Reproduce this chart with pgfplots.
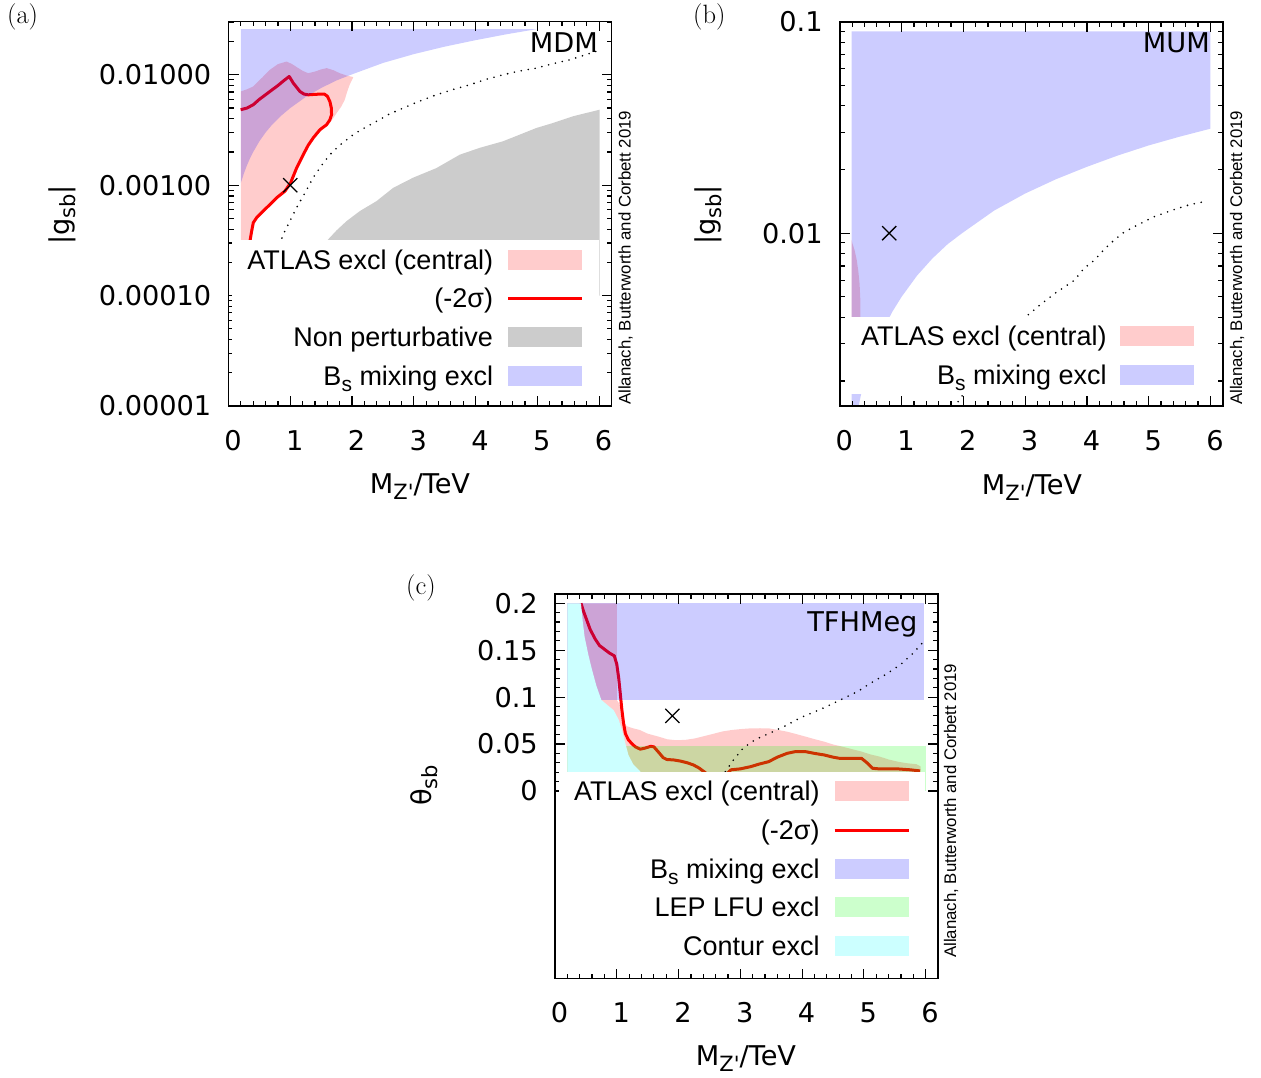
\documentclass[border=0pt]{standalone}
\usepackage{fontspec}
\usepackage{pgfplots}
\pgfplotsset{compat=1.18}
\newfontfamily\dv{DejaVu Sans}
\newfontfamily\ls{Liberation Sans}
\newcommand\tickfont{\dv\fontsize{27.2}{30}\selectfont}
\newcommand\legfont{\ls\fontsize{27}{30}\selectfont}
\newcommand\cpfont{\ls\fontsize{16.8}{20}\selectfont}
\newcommand\tsub[1]{\raisebox{-6pt}{\fontsize{21}{24}\selectfont #1}}
\definecolor{pinkc}{RGB}{255,204,204}
\definecolor{bluec}{RGB}{204,204,255}
\definecolor{greyc}{RGB}{204,204,204}
\definecolor{greenc}{RGB}{204,255,204}
\definecolor{cyanc}{RGB}{204,255,255}

\pgfplotsset{
  boxleg/.style={legend image code/.code={\fill[##1, draw=none] (0pt,-10pt) rectangle (74pt,10pt);}},
  lineleg/.style={legend image code/.code={\path[draw=none, fill=none] (0pt,-10pt) rectangle (74pt,10pt); \draw[##1] (0pt,0pt) -- (74pt,0pt);}},
  gp/.style={
    scale only axis, width=383pt, height=384.5pt,
    xmin=0, xmax=6.2, xtick={0,1,2,3,4,5,6}, minor x tick num=4,
    axis on top,
    axis line style={line width=1.8pt},
    every tick/.style={black, line width=1.2pt},
    major tick length=10pt, minor tick length=5pt,
    tick label style={font=\tickfont},
    /pgf/number format/assume math mode=true,
    xticklabel style={anchor=north, inner sep=0pt, yshift=-24pt, xshift=4.5pt},
    yticklabel style={anchor=east, inner sep=0pt, xshift=-17pt},
    label style={font=\tickfont},
    legend cell align=right, legend plot pos=right,
    legend style={fill=white, draw=none, inner xsep=15pt, inner ysep=0pt,
      row sep=0pt, column sep=13.5pt, font=\legfont, anchor=north east,
      nodes={inner sep=0pt, text height=28.85pt, text depth=9.85pt}},
  },
  dots/.style={black, line width=1.8pt, line cap=round, dash pattern=on 0pt off 7pt, forget plot},
  cross/.style={black, only marks, mark=x, mark size=10pt, line width=1.3pt, forget plot},
}

\begin{document}
\begin{tikzpicture}
\path[use as bounding box] (0pt,0pt) rectangle (1261pt,-1077pt);

% ---------------- (a) MDM
\begin{axis}[gp, at={(228.5pt,-21.5pt)}, anchor=north west,
  ymode=log, ymin=1e-5, ymax=0.0304,
  ytick={1e-5,1e-4,1e-3,1e-2}, yticklabels={0.00001,0.00010,0.00100,0.01000},
  minor ytick={2e-5,3e-5,4e-5,5e-5,6e-5,7e-5,8e-5,9e-5,2e-4,3e-4,4e-4,5e-4,6e-4,7e-4,8e-4,9e-4,2e-3,3e-3,4e-3,5e-3,6e-3,7e-3,8e-3,9e-3,2e-2,3e-2},
  xlabel={M\tsub{Z\textquotesingle}/TeV},
  ylabel={|g\tsub{sb}|},
  xlabel style={at={(axis description cs:0.5,-0.2107)}, anchor=center},
  ylabel style={at={(axis description cs:-0.4347,0.4967)}, anchor=center},
  legend style={at={(axis description cs:0.9667,0.4317)}},
]
% non perturbative
\addplot[fill=black, fill opacity=0.2, draw=none, forget plot] coordinates {
 (0.9,0.0001) (1.0,0.00013) (1.3,0.00021) (1.588,0.000312) (1.75,0.00039) (1.911,0.000473)
 (2.126,0.000583) (2.396,0.000718) (2.665,0.000946) (2.988,0.00117) (3.366,0.00143)
 (3.743,0.00189) (4.066,0.00218) (4.443,0.0025) (4.713,0.00287) (4.983,0.0033)
 (5.252,0.00366) (5.575,0.00421) (5.791,0.00451) (6.007,0.00483) (6.007,0.0001)} -- cycle;
% ATLAS central
\addplot[fill=red, fill opacity=0.2, draw=none, forget plot] coordinates {
 (0.2,0.00707) (0.30,0.0074) (0.40,0.00784) (0.55,0.0095) (0.67,0.0111) (0.80,0.0125)
 (0.94,0.0132) (1.03,0.0125) (1.13,0.0115) (1.21,0.0108) (1.29,0.01035) (1.40,0.0107)
 (1.50,0.0112) (1.59,0.0115) (1.70,0.0110) (1.80,0.01035) (1.90,0.0099) (2.02,0.00953)
 (1.96,0.0081) (1.92,0.0070) (1.88,0.0059) (1.82,0.0051) (1.75,0.0045) (1.69,0.0040)
 (1.60,0.0035) (1.50,0.0031) (1.39,0.00268) (1.30,0.0023) (1.22,0.00189) (1.12,0.00143)
 (1.02,0.00105) (0.93,0.00088) (0.80,0.00077) (0.64,0.000625) (0.48,0.000508)
 (0.42,0.000457) (0.39,0.000384) (0.36,0.000312) (0.33,0.00022) (0.30,0.0001) (0.2,0.0001)} -- cycle;
% -2 sigma
\addplot[red, line width=3pt, line join=round, forget plot] coordinates {
 (0.197,0.00483) (0.30,0.0050) (0.401,0.00536) (0.50,0.0060) (0.60,0.0066) (0.671,0.00707)
 (0.80,0.0080) (0.90,0.0089) (0.983,0.00966) (1.05,0.0084) (1.156,0.00707) (1.22,0.0067)
 (1.29,0.00659) (1.40,0.00665) (1.479,0.00669) (1.55,0.0067) (1.60,0.0064) (1.641,0.00574)
 (1.665,0.0050) (1.668,0.00435) (1.64,0.0039) (1.588,0.00353) (1.479,0.00318) (1.371,0.00268)
 (1.29,0.0023) (1.21,0.00189) (1.102,0.00143) (1.005,0.00105) (0.913,0.000883) (0.779,0.000769)
 (0.617,0.000625) (0.455,0.000508) (0.401,0.000457) (0.375,0.000384) (0.348,0.000312)
 (0.32,0.00024) (0.30,0.00015)};
% Bs mixing
\addplot[fill=blue, fill opacity=0.2, draw=none, forget plot] coordinates {
 (0.2,0.026) (5.0,0.026) (4.5,0.0233) (4.0,0.0206) (3.5,0.018) (3.0,0.0154) (2.5,0.0128)
 (2.0,0.0101) (1.75,0.0089) (1.5,0.0076) (1.25,0.0063) (1.0,0.005) (0.85,0.00425)
 (0.7,0.0035) (0.6,0.003) (0.5,0.0025) (0.4,0.002) (0.35,0.00176) (0.3,0.00152)
 (0.25,0.00128) (0.2,0.00105)} -- cycle;
\addplot[dots] coordinates {
 (0.75,0.00022) (0.886,0.000359) (1.0,0.00048) (1.102,0.000625) (1.25,0.00088) (1.371,0.00117)
 (1.5,0.0015) (1.641,0.00189) (1.8,0.0023) (2.018,0.00287) (2.2,0.0033) (2.396,0.00379)
 (2.6,0.0044) (2.827,0.0050) (3.1,0.0058) (3.366,0.00659) (3.65,0.0074) (3.905,0.00812)
 (4.17,0.0091) (4.443,0.01) (4.7,0.0108) (4.983,0.0115) (5.25,0.0126) (5.52,0.01366)
 (5.75,0.0150) (5.95,0.0163)};
\addplot[cross] coordinates {(1.0,0.001)};
\node[anchor=base east, inner sep=0pt, font=\tickfont] at (axis description cs:0.9648,0.9191) {MDM};
\addlegendimage{boxleg, fill=pinkc}\addlegendentry{ATLAS excl (central)}
\addlegendimage{lineleg, red, line width=3pt}\addlegendentry{(-2σ)}
\addlegendimage{boxleg, fill=greyc}\addlegendentry{Non perturbative}
\addlegendimage{boxleg, fill=bluec}\addlegendentry{B\tsub{s} mixing excl}
\end{axis}

% ---------------- (b) MUM
\begin{axis}[gp, at={(839.8pt,-21.7pt)}, anchor=north west,
  ymode=log, ymin=0.00152, ymax=0.1,
  ytick={0.01,0.1}, yticklabels={0.01,0.1},
  minor ytick={0.002,0.003,0.004,0.005,0.006,0.007,0.008,0.009,0.02,0.03,0.04,0.05,0.06,0.07,0.08,0.09},
  xlabel={M\tsub{Z\textquotesingle}/TeV},
  ylabel={|g\tsub{sb}|},
  xlabel style={at={(axis description cs:0.5018,-0.2107)}, anchor=center},
  ylabel style={at={(axis description cs:-0.3441,0.4973)}, anchor=center},
  legend style={at={(axis description cs:0.965,0.2328)}},
]
\addplot[fill=red, fill opacity=0.2, draw=none, forget plot] coordinates {
 (0.19,0.0093) (0.205,0.00894) (0.24,0.0083) (0.275,0.00745) (0.30,0.0066) (0.32,0.00578)
 (0.333,0.0048) (0.335,0.0040) (0.33,0.0030) (0.32,0.0025) (0.19,0.0025)} -- cycle;
\addplot[fill=blue, fill opacity=0.2, draw=none, forget plot] coordinates {
 (0.19,0.09) (6.0,0.09) (6.0,0.0312) (5.5,0.0286) (5.0,0.026) (4.5,0.0233) (4.0,0.0206)
 (3.5,0.018) (3.0,0.0154) (2.5,0.0128) (2.0,0.0101) (1.75,0.0089) (1.5,0.0076) (1.25,0.0063)
 (1.0,0.005) (0.85,0.00425) (0.7,0.0035) (0.6,0.003) (0.5,0.0025) (0.4,0.002) (0.35,0.00176)
 (0.3,0.0015) (0.28,0.0014) (0.19,0.0014)} -- cycle;
\addplot[dots] coordinates {
 (1.85,0.0015) (2.2,0.0021) (2.6,0.0029) (3.0,0.0040) (3.25,0.0046) (3.48,0.00519) (3.65,0.0056)
 (3.80,0.006) (3.95,0.0068) (4.12,0.00745) (4.3,0.0085) (4.44,0.00927) (4.6,0.0101)
 (4.76,0.01071) (5.08,0.01194) (5.40,0.0129) (5.65,0.0136) (5.91,0.01413)};
\addplot[cross] coordinates {(0.8,0.01)};
\node[anchor=base east, inner sep=0pt, font=\tickfont] at (axis description cs:0.9666,0.9196) {MUM};
\addlegendimage{boxleg, fill=pinkc}\addlegendentry{ATLAS excl (central)}
\addlegendimage{boxleg, fill=bluec}\addlegendentry{B\tsub{s} mixing excl}
\end{axis}

% ---------------- (c) TFHMeg
\begin{axis}[gp, at={(555pt,-594pt)}, anchor=north west,
  ymin=-0.2, ymax=0.2099,
  ytick={0,0.05,0.1,0.15,0.2}, yticklabels={0,0.05,0.1,0.15,0.2},
  minor ytick={0.01,0.02,0.03,0.04,0.06,0.07,0.08,0.09,0.11,0.12,0.13,0.14,0.16,0.17,0.18,0.19},
  xlabel={M\tsub{Z\textquotesingle}/TeV},
  ylabel={θ\tsub{sb}},
  xlabel style={at={(axis description cs:0.4987,-0.2073)}, anchor=center},
  ylabel style={at={(axis description cs:-0.342,0.5027)}, anchor=center},
  legend style={at={(axis description cs:0.9668,0.5376)}},
]
\addplot[fill=red, fill opacity=0.2, draw=none, forget plot] coordinates {
 (0.2,0.2) (1.0,0.2) (1.0,0.097) (1.03,0.094) (1.06,0.09) (1.09,0.08) (1.12,0.073) (1.16,0.069)
 (1.25,0.067) (1.37,0.065) (1.5,0.061) (1.67,0.058) (1.82,0.055) (1.97,0.054) (2.12,0.0545)
 (2.27,0.056) (2.42,0.0585) (2.57,0.061) (2.72,0.0635) (2.87,0.065) (3.02,0.066) (3.17,0.0667)
 (3.32,0.0668) (3.46,0.0667) (3.61,0.065) (3.76,0.0631) (3.91,0.0605) (4.06,0.0578)
 (4.21,0.055) (4.36,0.0525) (4.5,0.0495) (4.6,0.048) (4.78,0.045) (4.96,0.042) (5.1,0.039)
 (5.26,0.0365) (5.4,0.0335) (5.56,0.031) (5.7,0.0295) (5.85,0.0285) (5.92,0.026) (5.92,0)
 (0.2,0)} -- cycle;
\addplot[red, line width=3pt, line join=round, forget plot] coordinates {
 (0.42,0.2) (0.47,0.19) (0.52,0.181) (0.57,0.172) (0.65,0.162) (0.72,0.155) (0.80,0.151)
 (0.88,0.147) (0.96,0.144) (1.0,0.135) (1.03,0.121) (1.055,0.105) (1.08,0.088) (1.11,0.072)
 (1.14,0.061) (1.19,0.0543) (1.25,0.05) (1.30,0.047) (1.38,0.0445) (1.45,0.0455) (1.55,0.0475)
 (1.60,0.047) (1.68,0.041) (1.75,0.0355) (1.81,0.0335) (1.92,0.033) (2.03,0.0318) (2.14,0.030)
 (2.24,0.0277) (2.33,0.0245) (2.41,0.0206) (2.5,0.016) (2.65,0.014) (2.78,0.018) (2.85,0.0225)
 (3.0,0.0235) (3.17,0.0259) (3.3,0.0285) (3.46,0.0312) (3.6,0.036) (3.76,0.0401) (3.9,0.042)
 (4.06,0.0418) (4.2,0.040) (4.36,0.0383) (4.5,0.036) (4.6,0.0348) (4.8,0.0348) (4.96,0.0348)
 (5.05,0.030) (5.14,0.0241) (5.26,0.0234) (5.4,0.0236) (5.56,0.0234) (5.75,0.0225) (5.91,0.0213)};
\addplot[fill=green, fill opacity=0.2, draw=none, forget plot] coordinates {
 (0.2,0.048) (6.0,0.048) (6.0,0) (0.2,0)} -- cycle;
\addplot[fill=blue, fill opacity=0.2, draw=none, forget plot] coordinates {
 (0.2,0.2) (5.98,0.2) (5.98,0.097) (0.2,0.097)} -- cycle;
\addplot[fill=cyanc, draw=none, forget plot] coordinates {
 (0.2,0.2) (0.42,0.2) (0.45,0.18) (0.48,0.164) (0.54,0.145) (0.60,0.129) (0.67,0.112)
 (0.75,0.097) (0.84,0.092) (0.95,0.086) (1.03,0.076) (1.08,0.066) (1.13,0.053) (1.19,0.038)
 (1.27,0.028) (1.38,0.0207) (1.42,0) (0.2,0)} -- cycle;
\addplot[dots] coordinates {
 (2.62,0.0) (2.7,0.012) (2.76,0.0207) (2.9,0.034) (3.05,0.046) (3.25,0.055) (3.49,0.062)
 (3.75,0.07) (3.97,0.078) (4.3,0.087) (4.62,0.097) (4.9,0.106) (5.11,0.115) (5.35,0.124)
 (5.6,0.135) (5.8,0.147) (5.95,0.158)};
\addplot[cross] coordinates {(1.9,0.08)};
\node[anchor=base east, inner sep=0pt, font=\tickfont] at (axis description cs:0.947,0.9014) {TFHMeg};
\addlegendimage{boxleg, fill=pinkc}\addlegendentry{ATLAS excl (central)}
\addlegendimage{lineleg, red, line width=3pt}\addlegendentry{(-2σ)}
\addlegendimage{boxleg, fill=bluec}\addlegendentry{B\tsub{s} mixing excl}
\addlegendimage{boxleg, fill=greenc}\addlegendentry{LEP LFU excl}
\addlegendimage{boxleg, fill=cyanc}\addlegendentry{Contur excl}
\end{axis}

% panel letters and credits
\node[anchor=base west, inner sep=0pt, font=\fontsize{26.5}{30}\selectfont] at (7pt,-23.4pt) {(a)};
\node[anchor=base west, inner sep=0pt, font=\fontsize{26.5}{30}\selectfont] at (693pt,-23.4pt) {(b)};
\node[anchor=base west, inner sep=0pt, font=\fontsize{26.5}{30}\selectfont] at (406pt,-594.4pt) {(c)};
\node[rotate=90, anchor=base west, inner sep=0pt, font=\cpfont] at (630.7pt,-405pt) {Allanach, Butterworth and Corbett 2019};
\node[rotate=90, anchor=base west, inner sep=0pt, font=\cpfont] at (1242pt,-405pt) {Allanach, Butterworth and Corbett 2019};
\node[rotate=90, anchor=base west, inner sep=0pt, font=\cpfont] at (956pt,-958pt) {Allanach, Butterworth and Corbett 2019};
\end{tikzpicture}
\end{document}
